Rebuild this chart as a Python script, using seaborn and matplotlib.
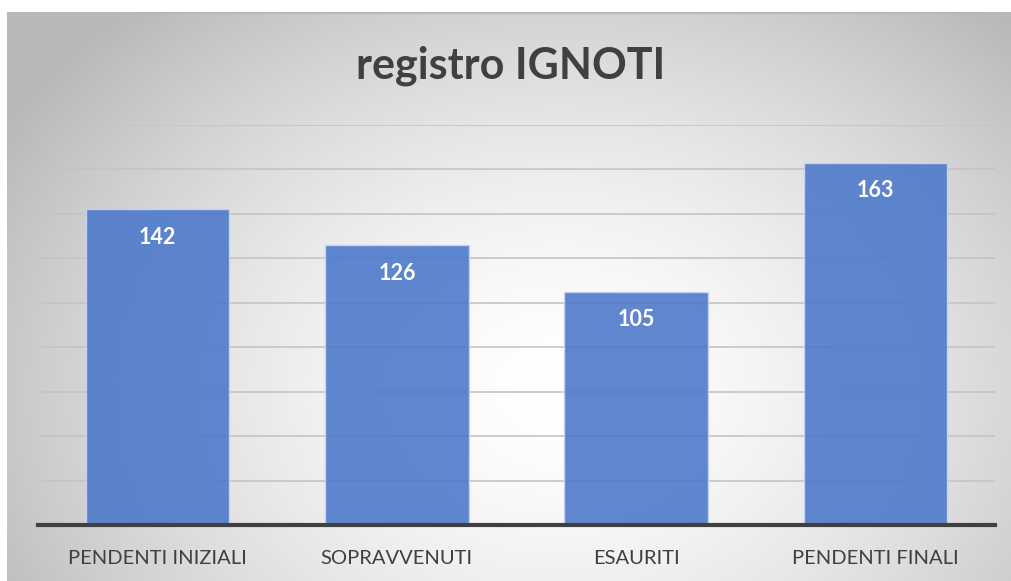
import numpy as np
import matplotlib
matplotlib.use("Agg")
import matplotlib.pyplot as plt
import seaborn as sns
import pandas as pd

categories = ["PENDENTI INIZIALI", "SOPRAVVENUTI", "ESAURITI", "PENDENTI FINALI"]
values = [142, 126, 105, 163]
title = "registro IGNOTI"

sns.set_theme(style="white")
plt.rcParams['font.family'] = ['Lato', 'DejaVu Sans']

W, H = 1011, 581
fig = plt.figure(figsize=(W / 100, H / 100), dpi=100)
fig.patch.set_facecolor("white")

# background radial gradient panel
bg = fig.add_axes([7 / W, 0, 1 - 7 / W, 1 - 12 / H])
bg.set_axis_off()
nx, ny = 400, 230
xs = np.linspace(7, W, nx)
ys = np.linspace(12, H, ny)
X, Y = np.meshgrid(xs, ys)
cx, cy = 560, 390
r = np.sqrt(((X - cx) / 600) ** 2 + ((Y - cy) / 470) ** 2)
v = 255 - 62 * np.clip(r, 0, 1.4) ** 1.6
v = np.clip(v, 185, 255) / 255
img = np.dstack([v, v, v])
bg.imshow(img, extent=[0, 1, 0, 1], aspect="auto", origin="upper")
bg.set_xlim(0, 1)
bg.set_ylim(0, 1)
bg.plot([0, 1], [0.998, 0.998], color="#b8b8b8", lw=1.5)

ax = fig.add_axes([38 / W, 1 - 525 / H, (995 - 38) / W, (525 - 125) / H])
ax.set_facecolor("none")
df = pd.DataFrame({"cat": categories, "val": values})
sns.barplot(data=df, x="cat", y="val", ax=ax, width=0.6, color="#4e7acb",
            saturation=1, alpha=0.9, edgecolor="#c9d6ef", linewidth=1, zorder=3)
ax.set_ylim(0, 180)
ax.set_xlim(-0.5, 3.5)
ax.set_yticks(np.arange(0, 181, 20))
ax.yaxis.grid(True, color="#c4c4c4", lw=1.2, zorder=0)
ax.set_axisbelow(True)
ax.tick_params(axis="y", left=False, labelleft=False)
ax.tick_params(axis="x", bottom=False, pad=12, labelsize=14.5, labelcolor="#404040")
ax.set_xlabel("")
ax.set_ylabel("")
for s in ["top", "right", "left"]:
    ax.spines[s].set_visible(False)
ax.spines["bottom"].set_color("#404040")
ax.spines["bottom"].set_linewidth(3)
ax.spines["bottom"].set_zorder(5)

for i, val in enumerate(values):
    ax.annotate(str(val), xy=(i, val), xytext=(0, -28), textcoords="offset pixels",
                ha="center", va="center", color="white", fontsize=15.5,
                fontweight="bold", zorder=6)

fig.text(0.5 + 5 / W, 1 - 66 / H, title, ha="center", va="center",
         fontsize=31, fontweight="bold", color="#404040")

fig.savefig("out.png", dpi=100)
